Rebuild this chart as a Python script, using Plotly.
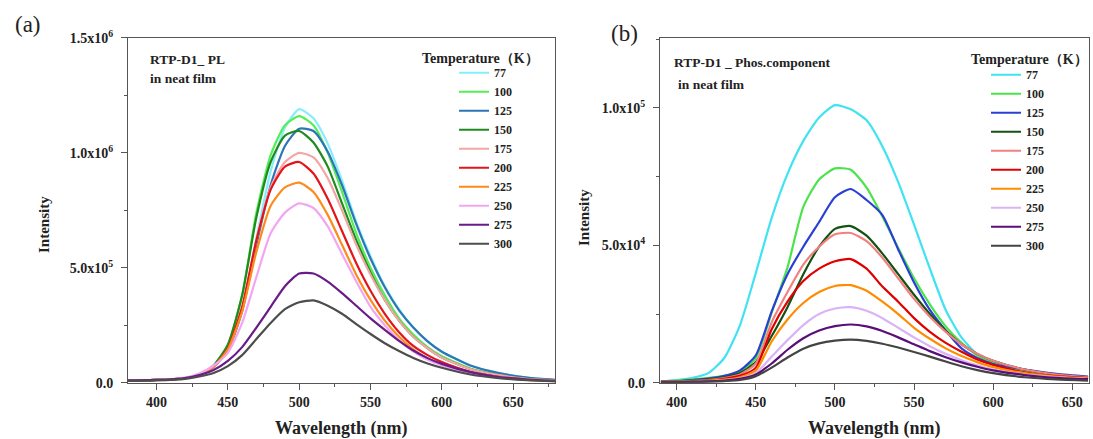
import plotly.graph_objects as go

FONT = "Liberation Serif"

# ---------------- data ----------------
TEMPS = ["77", "100", "125", "150", "175", "200", "225", "250", "275", "300"]

# Panel (a): PL spectra, intensity in units of 1e5
WL_A = [380, 400, 420, 430, 440, 450, 460, 470, 480, 490, 500, 510, 520, 530, 540,
        550, 560, 570, 580, 590, 600, 620, 640, 660, 680]
PL_77 = [0.1, 0.12, 0.2, 0.35, 0.7, 1.4, 3.2, 6.3, 9.2, 11.1, 11.9, 11.5, 10.4, 8.8, 7.0,
         5.5, 4.2, 3.2, 2.4, 1.8, 1.35, 0.75, 0.42, 0.22, 0.12]
PL_100 = [0.1, 0.12, 0.2, 0.35, 0.75, 1.65, 3.8, 7.4, 9.9, 11.2, 11.6, 11.2, 10.0, 8.3, 6.5,
          5.0, 3.8, 2.8, 2.1, 1.55, 1.15, 0.62, 0.34, 0.18, 0.1]
PL_125 = [0.1, 0.12, 0.2, 0.35, 0.7, 1.4, 3.1, 6.0, 8.6, 10.3, 11.05, 10.95, 10.05, 8.6, 6.9,
          5.4, 4.15, 3.15, 2.4, 1.8, 1.35, 0.75, 0.42, 0.22, 0.12]
PL_150 = [0.1, 0.12, 0.2, 0.35, 0.75, 1.65, 3.8, 7.2, 9.6, 10.75, 10.95, 10.45, 9.4, 7.8, 6.2,
          4.8, 3.6, 2.7, 2.0, 1.5, 1.1, 0.6, 0.33, 0.17, 0.1]
PL_175 = [0.1, 0.12, 0.2, 0.35, 0.7, 1.45, 3.2, 6.2, 8.5, 9.6, 10.0, 9.8, 8.9, 7.5, 6.0,
          4.7, 3.6, 2.7, 2.0, 1.5, 1.1, 0.6, 0.33, 0.17, 0.1]
PL_200 = [0.1, 0.12, 0.2, 0.35, 0.7, 1.5, 3.3, 6.2, 8.4, 9.4, 9.6, 9.1, 8.0, 6.6, 5.2,
          4.0, 3.0, 2.2, 1.6, 1.2, 0.9, 0.48, 0.26, 0.14, 0.08]
PL_225 = [0.1, 0.12, 0.2, 0.35, 0.7, 1.45, 3.1, 5.7, 7.7, 8.5, 8.7, 8.3, 7.3, 6.0, 4.7,
          3.6, 2.7, 2.0, 1.45, 1.05, 0.78, 0.42, 0.23, 0.12, 0.07]
PL_250 = [0.1, 0.12, 0.22, 0.4, 0.75, 1.3, 2.6, 4.6, 6.5, 7.4, 7.8, 7.6, 6.8, 5.6, 4.4,
          3.3, 2.5, 1.85, 1.35, 1.0, 0.75, 0.42, 0.24, 0.13, 0.08]
PL_275 = [0.1, 0.12, 0.2, 0.33, 0.55, 0.95, 1.55, 2.4, 3.3, 4.2, 4.75, 4.75, 4.4, 3.9, 3.35,
          2.8, 2.3, 1.82, 1.4, 1.07, 0.82, 0.46, 0.25, 0.14, 0.08]
PL_300 = [0.08, 0.1, 0.17, 0.27, 0.42, 0.72, 1.2, 1.9, 2.6, 3.2, 3.5, 3.58, 3.35, 3.0, 2.55,
          2.12, 1.72, 1.38, 1.08, 0.84, 0.65, 0.36, 0.2, 0.11, 0.06]

# Panel (b): phosphorescence component, intensity in units of 1e4
WL_B = [390, 400, 410, 420, 430, 440, 450, 460, 470, 480, 490, 500, 510, 520, 530,
        540, 550, 560, 570, 580, 590, 600, 620, 640, 660]
PH_77 = [0.05, 0.1, 0.18, 0.35, 0.9, 2.1, 4.0, 6.0, 7.6, 8.8, 9.65, 10.1, 9.95, 9.55, 8.6,
         7.3, 5.75, 4.15, 2.65, 1.65, 1.03, 0.68, 0.37, 0.22, 0.15]
PH_100 = [0.05, 0.08, 0.12, 0.18, 0.25, 0.38, 0.9, 2.55, 4.2, 6.4, 7.4, 7.8, 7.75, 7.1, 6.05,
          4.9, 3.8, 2.85, 2.05, 1.45, 1.0, 0.75, 0.45, 0.3, 0.2]
PH_125 = [0.04, 0.06, 0.1, 0.15, 0.25, 0.45, 1.0, 2.6, 3.95, 4.95, 5.85, 6.75, 7.05, 6.65, 6.1,
          4.85, 3.65, 2.65, 1.9, 1.25, 0.9, 0.68, 0.48, 0.32, 0.22]
PH_150 = [0.03, 0.05, 0.08, 0.12, 0.2, 0.35, 0.75, 1.7, 2.75, 3.95, 4.95, 5.6, 5.7, 5.35, 4.7,
          3.95, 3.2, 2.5, 1.9, 1.4, 1.05, 0.8, 0.48, 0.3, 0.2]
PH_175 = [0.03, 0.05, 0.07, 0.1, 0.17, 0.3, 0.7, 2.2, 3.3, 4.3, 4.95, 5.4, 5.45, 5.15, 4.55,
          3.8, 3.05, 2.4, 1.85, 1.4, 1.05, 0.8, 0.48, 0.3, 0.2]
PH_200 = [0.03, 0.04, 0.06, 0.08, 0.14, 0.25, 0.55, 1.95, 2.95, 3.7, 4.15, 4.42, 4.5, 4.15, 3.5,
          2.95, 2.35, 1.85, 1.45, 1.13, 0.85, 0.65, 0.38, 0.24, 0.17]
PH_225 = [0.03, 0.04, 0.05, 0.07, 0.11, 0.2, 0.45, 1.5, 2.3, 2.9, 3.3, 3.52, 3.55, 3.35, 2.95,
          2.5, 2.0, 1.6, 1.25, 0.97, 0.75, 0.57, 0.35, 0.22, 0.15]
PH_250 = [0.03, 0.035, 0.045, 0.06, 0.09, 0.16, 0.35, 0.95, 1.55, 2.1, 2.5, 2.7, 2.75, 2.62, 2.35,
          2.0, 1.65, 1.33, 1.05, 0.82, 0.63, 0.48, 0.3, 0.2, 0.14]
PH_275 = [0.03, 0.03, 0.04, 0.05, 0.08, 0.14, 0.3, 0.7, 1.2, 1.62, 1.9, 2.06, 2.12, 2.05, 1.88,
          1.65, 1.4, 1.15, 0.93, 0.74, 0.58, 0.45, 0.28, 0.18, 0.13]
PH_300 = [0.02, 0.03, 0.03, 0.04, 0.06, 0.1, 0.24, 0.55, 0.92, 1.24, 1.43, 1.53, 1.57, 1.52, 1.42,
          1.28, 1.12, 0.95, 0.77, 0.6, 0.46, 0.35, 0.2, 0.12, 0.08]

PL_SERIES = [PL_77, PL_100, PL_125, PL_150, PL_175, PL_200, PL_225, PL_250, PL_275, PL_300]
PH_SERIES = [PH_77, PH_100, PH_125, PH_150, PH_175, PH_200, PH_225, PH_250, PH_275, PH_300]

COLORS_A = ["#86EEFB", "#55EE55", "#2E75B6", "#1E8B1E", "#F4A6A6",
            "#E3141B", "#FF8A1C", "#F2A6F2", "#6A1B8A", "#4D4D4D"]
COLORS_B = ["#3FE3F2", "#4BE34B", "#2A3FD6", "#145214", "#F28080",
            "#E00000", "#FF8C00", "#D9B3F5", "#5B0E7A", "#444444"]

YTICKS_A = [0, 5, 10, 15]
YTEXT_A = ["0.0", "5.0x10<sup>5</sup>", "1.0x10<sup>6</sup>", "1.5x10<sup>6</sup>"]
YTICKS_B = [0, 5, 10]
YTEXT_B = ["0.0", "5.0x10<sup>4</sup>", "1.0x10<sup>5</sup>"]

# ---------------- figure ----------------
W, H = 1093, 439
fig = go.Figure()

for name, ys, col in zip(TEMPS, PL_SERIES, COLORS_A):
    fig.add_trace(go.Scatter(x=WL_A, y=ys, name=name, mode="lines",
                             line=dict(color=col, width=2.2, shape="spline", smoothing=0.6),
                             xaxis="x", yaxis="y", legend="legend"))
for name, ys, col in zip(TEMPS, PH_SERIES, COLORS_B):
    fig.add_trace(go.Scatter(x=WL_B, y=ys, name=name, mode="lines",
                             line=dict(color=col, width=2.2, shape="spline", smoothing=0.6),
                             xaxis="x2", yaxis="y2", legend="legend2"))

# page is laid out with an 8px top offset and 423px usable height
TOP_OFF, USE_H = 8, 423


def px_x(p):
    return p / W


def px_y(p):
    return 1 - (p - TOP_OFF) / USE_H


axline = "#555"
xcommon = dict(showline=True, linecolor=axline, linewidth=1, mirror=True, showgrid=False,
               zeroline=False, ticks="outside", ticklen=6, tickwidth=1, tickcolor=axline,
               tickmode="linear", tick0=0, dtick=50,
               tickfont=dict(family=FONT, size=14, color="#222", weight="bold"),
               minor=dict(ticks="outside", ticklen=3.5, dtick=25, tick0=0, tickcolor=axline))
ycommon = dict(showline=True, linecolor=axline, linewidth=1, mirror=True, showgrid=False,
               zeroline=False, ticks="outside", ticklen=6, tickwidth=1, tickcolor=axline,
               tickfont=dict(family=FONT, size=14, color="#222", weight="bold"),
               ticklabelstandoff=5,
               minor=dict(ticks="outside", ticklen=3.5, dtick=2.5, tick0=0, tickcolor=axline))

ydom = [px_y(382.5), px_y(36)]
legfont = dict(family=FONT, size=12, color="#222", weight="bold")

fig.update_layout(
    width=W, height=H,
    margin=dict(l=0, r=0, t=0, b=0),
    paper_bgcolor="white", plot_bgcolor="white",
    font=dict(family=FONT, color="#222"),
    xaxis=dict(domain=[px_x(128), px_x(555)], range=[380, 679.3], anchor="y", **xcommon),
    yaxis=dict(domain=ydom, range=[0, 15], anchor="x", tickmode="array",
               tickvals=YTICKS_A, ticktext=YTEXT_A, **ycommon),
    xaxis2=dict(domain=[px_x(660), px_x(1089)], range=[389.4, 660.6], anchor="y2", **xcommon),
    yaxis2=dict(domain=ydom, range=[0, 12.55], anchor="x2", tickmode="array",
                tickvals=YTICKS_B, ticktext=YTEXT_B, **ycommon),
    legend=dict(x=px_x(454), y=px_y(56.5), xanchor="left", yanchor="top",
                bgcolor="rgba(0,0,0,0)", borderwidth=0, tracegroupgap=0, itemwidth=30,
                font=legfont),
    legend2=dict(x=px_x(986), y=px_y(58.5), xanchor="left", yanchor="top",
                 bgcolor="rgba(0,0,0,0)", borderwidth=0, tracegroupgap=0, itemwidth=30,
                 font=legfont),
    showlegend=True,
)

ann = []


def add_text(text, x, y, size, xanchor="center", bold=True, angle=0):
    ann.append(dict(text=(f"<b>{text}</b>" if bold else text), x=px_x(x), y=px_y(y),
                    xref="paper", yref="paper", xanchor=xanchor, yanchor="middle",
                    showarrow=False, textangle=angle,
                    font=dict(family=FONT, size=size, color="#222")))


add_text("(a)", 28, 23, 23, bold=False)
add_text("(b)", 624, 32, 23, bold=False)
add_text("RTP-D1_ PL", 148, 58, 13.5, xanchor="left")
add_text("in neat film", 148, 77, 13.5, xanchor="left")
add_text("RTP-D1 _ Phos.component", 672, 61, 13.5, xanchor="left")
add_text("in neat film", 676, 83, 13.5, xanchor="left")
add_text("Temperature（K）", 480, 57, 14)
add_text("Temperature（K）", 1029, 58, 14)
add_text("Intensity", 44, 224, 15, angle=-90)
add_text("Intensity", 584, 217, 15, angle=-90)
add_text("Wavelength (nm)", 341.5, 428, 18)
add_text("Wavelength (nm)", 874.5, 428, 18)
fig.update_layout(annotations=ann)

fig.write_html("out.html")
